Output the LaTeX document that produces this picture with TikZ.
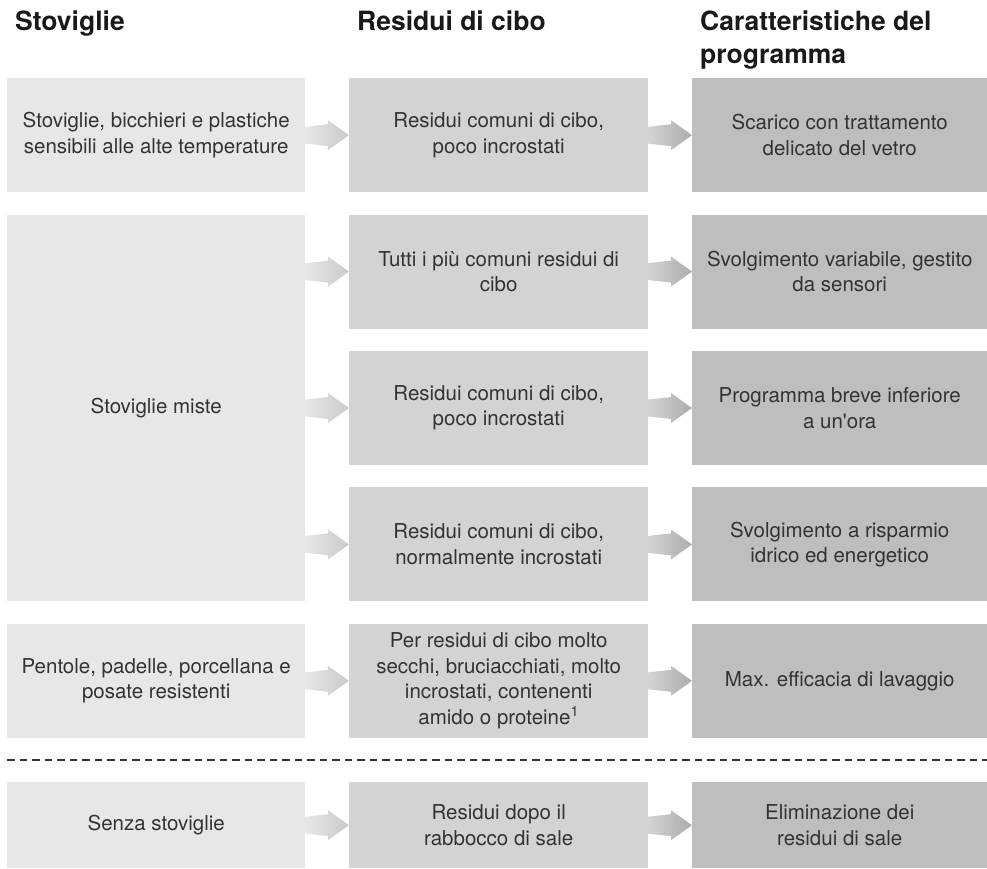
\documentclass[tikz,border=0pt]{standalone}
\usepackage{fontspec}
\setmainfont{TeX Gyre Heros}
\usetikzlibrary{calc}
\definecolor{stovgray}{HTML}{E6E7E8}
\definecolor{residgray}{HTML}{D1D3D4}
\definecolor{proggray}{HTML}{BCBEC0}
\definecolor{tipone}{HTML}{C8C9CB}
\definecolor{tiptwo}{HTML}{AAACAF}
\definecolor{bodytext}{HTML}{333333}
\tikzset{
    colbox/.style={anchor=north west, inner sep=0pt, align=center, text=bodytext,
        font=\fontsize{20.5}{25.5}\selectfont},
    stovbox/.style={colbox, fill=stovgray, minimum width=298pt},
    residbox/.style={colbox, fill=residgray, minimum width=299pt},
    progbox/.style={colbox, fill=proggray, minimum width=295pt},
    header/.style={anchor=north west, inner sep=0pt, align=left, text=black!90,
        font=\fontsize{26.5}{33}\selectfont\bfseries},
    separator/.style={draw=bodytext, line width=2.5pt, dash pattern=on 7.5pt off 5pt}
}
% shaded block arrow: from, to, start colour, end colour
\newcommand{\flowarrow}[4]{%
    \path[left color=#3, right color=#4]
        ($(#1.east |- #2.west)+(0,-8.5)$) -- ($(#2.west)+(-21,-11)$)
        -- ($(#2.west)+(-21,-15)$) -- (#2.west) -- ($(#2.west)+(-21,15)$)
        -- ($(#2.west)+(-21,11)$) -- ($(#1.east |- #2.west)+(0,8.5)$) -- cycle;
}

\begin{document}
\begin{tikzpicture}[x=1pt, y=-1pt]
    \useasboundingbox (0,0) rectangle (987,868);

    \node[header] (hstov) at (15,11) {Stoviglie};
    \node[header] (hresid) at (357,11) {Residui di cibo};
    \node[header] (hprog) at (700,11) {Caratteristiche del\\programma};

    \node[stovbox, minimum height=114pt] (stova) at (7,78) {Stoviglie, bicchieri e plastiche\\sensibili alle alte temperature};
    \node[residbox, minimum height=114pt] (resida) at (349,78) {Residui comuni di cibo,\\poco incrostati};
    \node[progbox, minimum height=114pt] (proga) at (692,78) {Scarico con trattamento\\delicato del vetro};

    \node[stovbox, minimum height=386.8pt] (stovb) at (7,214.4) {Stoviglie miste};
    \node[residbox, minimum height=114pt] (residb1) at (349,214.4) {Tutti i più comuni residui di\\cibo};
    \node[residbox, minimum height=114pt] (residb2) at (349,350.8) {Residui comuni di cibo,\\poco incrostati};
    \node[residbox, minimum height=114pt] (residb3) at (349,487.2) {Residui comuni di cibo,\\normalmente incrostati};
    \node[progbox, minimum height=114pt] (progb1) at (692,214.4) {Svolgimento variabile, gestito\\da sensori};
    \node[progbox, minimum height=114pt] (progb2) at (692,350.8) {Programma breve inferiore\\a un\textquotesingle ora};
    \node[progbox, minimum height=114pt] (progb3) at (692,487.2) {Svolgimento a risparmio\\idrico ed energetico};

    \node[stovbox, minimum height=114pt] (stovc) at (7,623.6) {Pentole, padelle, porcellana e\\posate resistenti};
    \node[residbox, minimum height=114pt] (residc) at (349,623.6) {Per residui di cibo molto\\secchi, bruciacchiati, molto\\incrostati, contenenti\\amido o proteine\textsuperscript{1}};
    \node[progbox, minimum height=114pt] (progc) at (692,623.6) {Max. efficacia di lavaggio};

    \draw[separator] (7,760) -- (987,760);

    \node[stovbox, minimum height=86pt] (stovd) at (7,782) {Senza stoviglie};
    \node[residbox, minimum height=86pt] (residd) at (349,782) {Residui dopo il\\rabbocco di sale};
    \node[progbox, minimum height=86pt] (progd) at (692,782) {Eliminazione dei\\residui di sale};

    \flowarrow{stova}{resida}{stovgray}{tipone}
    \flowarrow{resida}{proga}{residgray}{tiptwo}
    \flowarrow{stovb}{residb1}{stovgray}{tipone}
    \flowarrow{stovb}{residb2}{stovgray}{tipone}
    \flowarrow{stovb}{residb3}{stovgray}{tipone}
    \flowarrow{residb1}{progb1}{residgray}{tiptwo}
    \flowarrow{residb2}{progb2}{residgray}{tiptwo}
    \flowarrow{residb3}{progb3}{residgray}{tiptwo}
    \flowarrow{stovc}{residc}{stovgray}{tipone}
    \flowarrow{residc}{progc}{residgray}{tiptwo}
    \flowarrow{stovd}{residd}{stovgray}{tipone}
    \flowarrow{residd}{progd}{residgray}{tiptwo}
\end{tikzpicture}
\end{document}
